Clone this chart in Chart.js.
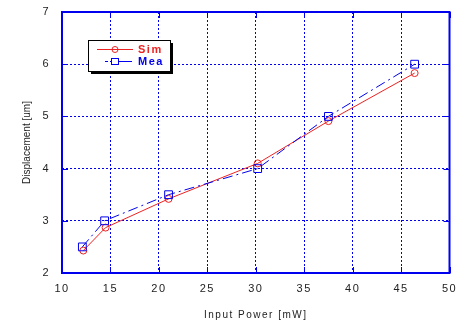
<!DOCTYPE html>
<html>
<head>
<meta charset="utf-8">
<script src="https://cdn.jsdelivr.net/npm/chart.js@4.4.1/dist/chart.umd.min.js"></script>
<style>
  html, body { margin: 0; padding: 0; background: #fff; }
  #wrap { width: 456px; height: 321px; position: relative; }
</style>
</head>
<body>
<div id="wrap"><canvas id="chart"></canvas></div>
<script>
const powerSim = [12.2, 14.5, 21.0, 30.2, 37.5, 46.4];
const dispSim = [2.43, 2.87, 3.42, 4.10, 4.91, 5.83];
const powerMea = [12.1, 14.4, 21.0, 30.2, 37.5, 46.4];
const dispMea = [2.50, 3.00, 3.50, 4.00, 5.00, 6.00];
const xTicks = [10, 15, 20, 25, 30, 35, 40, 45, 50];
const yTicks = [2, 3, 4, 5, 6, 7];
const seriesNames = ['Sim', 'Mea'];
const yTitle = 'Displacement [um]';

const RED = '#ee2222';
const BLUE = '#0000ee';
const MEA_DASH = [10, 4, 2, 4];
const FONT = 'Liberation Sans, Arial, sans-serif';

function toPoints(xs, ys) {
  return xs.map((x, i) => ({ x: x, y: ys[i] }));
}

// legend box with shadow, drawn in the top-left of the plot
const boxLegend = {
  id: 'boxLegend',
  afterDatasetsDraw(chart) {
    const ctx = chart.ctx;
    const x = 88, y = 40, w = 82, h = 31;
    ctx.save();
    ctx.fillStyle = '#000';
    ctx.fillRect(x + 3, y + 3, w, h);
    ctx.fillStyle = '#fff';
    ctx.fillRect(x, y, w, h);
    ctx.strokeStyle = '#000';
    ctx.lineWidth = 1;
    ctx.strokeRect(x + 0.5, y + 0.5, w, h);

    ctx.font = 'bold 11px ' + FONT;
    ctx.letterSpacing = '1.5px';
    ctx.textBaseline = 'middle';

    // Sim row
    ctx.strokeStyle = RED;
    ctx.beginPath();
    ctx.moveTo(97, 49.5); ctx.lineTo(133, 49.5);
    ctx.stroke();
    ctx.beginPath();
    ctx.arc(115, 49.5, 3, 0, Math.PI * 2);
    ctx.stroke();
    ctx.fillStyle = RED;
    ctx.fillText(seriesNames[0], 138, 50);

    // Mea row
    ctx.strokeStyle = BLUE;
    ctx.setLineDash([3, 2, 20, 0]);
    ctx.beginPath();
    ctx.moveTo(105, 61.5); ctx.lineTo(132, 61.5);
    ctx.stroke();
    ctx.setLineDash([]);
    ctx.fillStyle = '#fff';
    ctx.fillRect(111, 58, 8, 7);
    ctx.strokeRect(111.5, 58.5, 7, 6);
    ctx.fillStyle = BLUE;
    ctx.fillText(seriesNames[1], 138, 62);
    ctx.restore();
  }
};

const spacing = {
  id: 'spacing',
  beforeDraw(chart) { chart.ctx.letterSpacing = '1.5px'; }
};

// blue frame with inward ticks, and the rotated y title (no letter spacing)
const frame = {
  id: 'frame',
  beforeDatasetsDraw(chart) {
    const a = chart.chartArea, ctx = chart.ctx;
    const sx = chart.scales.x, sy = chart.scales.y;
    ctx.save();
    ctx.strokeStyle = BLUE;
    ctx.lineWidth = 2;
    ctx.strokeRect(a.left, a.top, a.right - a.left, a.bottom - a.top);

    ctx.lineWidth = 1;
    ctx.beginPath();
    xTicks.forEach(v => {
      const px = Math.round(sx.getPixelForValue(v)) + 0.5;
      ctx.moveTo(px, a.bottom); ctx.lineTo(px, a.bottom - 6);
      ctx.moveTo(px, a.top); ctx.lineTo(px, a.top + 6);
    });
    yTicks.forEach(v => {
      const py = Math.round(sy.getPixelForValue(v)) + 0.5;
      ctx.moveTo(a.left, py); ctx.lineTo(a.left + 6, py);
      ctx.moveTo(a.right, py); ctx.lineTo(a.right - 6, py);
    });
    ctx.stroke();

    ctx.letterSpacing = '0px';
    ctx.translate(27, (a.top + a.bottom) / 2);
    ctx.rotate(-Math.PI / 2);
    ctx.font = '10px ' + FONT;
    ctx.fillStyle = '#222';
    ctx.textAlign = 'center';
    ctx.textBaseline = 'middle';
    ctx.fillText(yTitle, 0, 0);
    ctx.restore();
  }
};

new Chart(document.getElementById('chart'), {
  type: 'scatter',
  data: {
    datasets: [
      {
        label: seriesNames[1],
        data: toPoints(powerMea, dispMea),
        showLine: true,
        borderColor: BLUE,
        borderWidth: 1,
        borderDash: MEA_DASH,
        pointStyle: 'rect',
        pointRadius: 5.5,
        pointBorderWidth: 1,
        pointBackgroundColor: 'rgba(0,0,0,0)',
        pointBorderColor: BLUE
      },
      {
        label: seriesNames[0],
        data: toPoints(powerSim, dispSim),
        showLine: true,
        borderColor: RED,
        borderWidth: 1,
        pointStyle: 'circle',
        pointRadius: 3.5,
        pointBorderWidth: 1,
        pointBackgroundColor: 'rgba(0,0,0,0)',
        pointBorderColor: RED
      }
    ]
  },
  options: {
    responsive: true,
    maintainAspectRatio: false,
    animation: false,
    layout: { padding: { top: 12, right: 6, left: 0, bottom: 0 } },
    plugins: {
      legend: { display: false },
      tooltip: { enabled: false }
    },
    scales: {
      x: {
        type: 'linear',
        min: 10,
        max: 50,
        afterBuildTicks: s => { s.ticks = xTicks.map(v => ({ value: v })); },
        afterFit: s => { s.height = 48; s.paddingLeft = 0; s.paddingRight = 0; },
        grid: {
          color: BLUE,
          lineWidth: 1,
          drawTicks: false
        },
        border: { display: false, dash: [2, 2] },
        ticks: {
          color: '#222',
          padding: 9,
          font: { family: FONT, size: 11 }
        },
        title: {
          display: true,
          text: 'Input Power [mW]',
          color: '#222',
          padding: { top: 9, bottom: 0 },
          font: { family: FONT, size: 10 }
        }
      },
      y: {
        type: 'linear',
        min: 2,
        max: 7,
        afterBuildTicks: s => { s.ticks = yTicks.map(v => ({ value: v })); },
        afterFit: s => { s.width = 62; s.paddingTop = 0; s.paddingBottom = 0; },
        grid: {
          color: BLUE,
          lineWidth: 1,
          drawTicks: false
        },
        border: { display: false, dash: [2, 2] },
        ticks: {
          color: '#222',
          padding: 12,
          font: { family: FONT, size: 11 }
        }
      }
    }
  },
  plugins: [spacing, frame, boxLegend]
});
</script>
</body>
</html>
